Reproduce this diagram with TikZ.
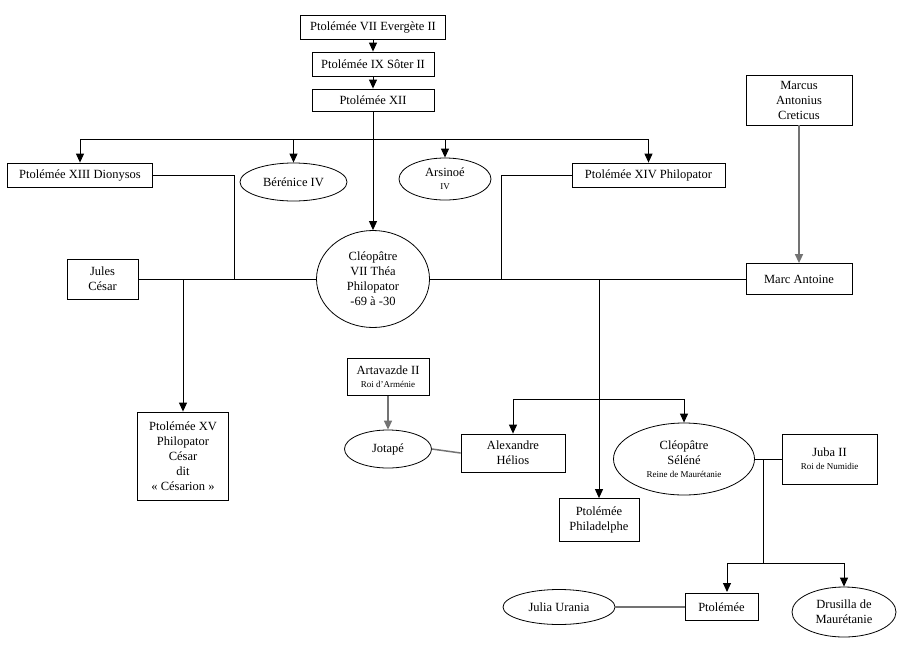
\documentclass[tikz,border=0pt]{standalone}
\usepackage{fontspec}
\setmainfont{Liberation Serif}
\usetikzlibrary{shapes.geometric,arrows.meta}
\tikzset{
  every node/.style={font=\fontsize{12.5}{15}\selectfont, align=center, inner sep=0pt},
  box/.style={draw, line width=0.8pt, rectangle},
  oval/.style={draw, line width=0.8pt, ellipse},
  ln/.style={line width=1pt},
  gln/.style={line width=1.5pt, black!55},
  arr/.style={ln, -{Triangle[length=9pt,width=8pt]}},
  garr/.style={gln, -{Triangle[length=9pt,width=8pt]}},
}
\newcommand{\smalltxt}{\fontsize{9}{11}\selectfont}
\begin{document}
\begin{tikzpicture}[x=1pt,y=-1pt]
\useasboundingbox (0,0) rectangle (902,646);
% nodes
\node[box, minimum width=145pt, minimum height=24pt] (p7) at (373,27) {Ptolémée VII Evergète II};
\node[box, minimum width=122pt, minimum height=24pt] (p9) at (373,64) {Ptolémée IX Sôter II};
\node[box, minimum width=122pt, minimum height=22pt] (p12) at (373,100) {Ptolémée XII};
\node[box, minimum width=145pt, minimum height=24pt] (p13) at (80,175) {Ptolémée XIII Dionysos};
\node[oval, minimum width=107pt, minimum height=38pt] (ber) at (293.5,182) {Bérénice IV};
\node[oval, minimum width=92pt, minimum height=42pt] (ars) at (445,179) {Arsinoé\\[-2pt]{\smalltxt IV}};
\node[box, minimum width=153pt, minimum height=24pt] (p14) at (648.5,175) {Ptolémée XIV Philopator};
\node[box, minimum width=106pt, minimum height=50pt] (marcus) at (799,100) {Marcus\\Antonius\\Creticus};
\node[box, minimum width=71pt, minimum height=40pt] (jules) at (102.5,279) {Jules\\César};
\node[oval, minimum width=113pt, minimum height=97pt] (cleo) at (373,279) {Cléopâtre\\VII Théa\\Philopator\\-69 à -30};
\node[box, minimum width=106pt, minimum height=31pt] (marc) at (799,279) {Marc Antoine};
\node[box, minimum width=82pt, minimum height=37pt] (art) at (388,377) {Artavazde II\\[-2pt]{\smalltxt Roi d'Arménie}};
\node[oval, minimum width=87pt, minimum height=38pt] (jot) at (388,449) {Jotapé};
\node[box, minimum width=91pt, minimum height=88pt] (caes) at (183,456) {Ptolémée XV\\Philopator\\César\\dit\\« Césarion »};
\node[box, minimum width=104pt, minimum height=38pt] (alex) at (513,453) {Alexandre\\Hélios};
\node[box, minimum width=80pt, minimum height=43pt] (phil) at (599,520) {Ptolémée\\Philadelphe};
\node[oval, minimum width=141pt, minimum height=72pt] (sel) at (684,459) {Cléopâtre\\Séléné\\[-2pt]{\smalltxt Reine de Maurétanie}};
\node[box, minimum width=95pt, minimum height=50pt] (juba) at (829.5,459) {Juba II\\[-2pt]{\smalltxt Roi de Numidie}};
\node[box, minimum width=73pt, minimum height=27pt] (ptol) at (721.5,607) {Ptolémée};
\node[oval, minimum width=104pt, minimum height=50pt] (dru) at (844,612) {Drusilla de\\Maurétanie};
\node[oval, minimum width=112pt, minimum height=35pt] (jul) at (559,607) {Julia Urania};
% coordinates
\coordinate (sib) at (373,139);
\coordinate (m13) at (234,279);
\coordinate (m14) at (501,279);
\coordinate (jc) at (183,279);
\coordinate (ma) at (599,279);
\coordinate (kids) at (599,399);
\coordinate (sj) at (763,459);
\coordinate (sjb) at (763,563);
\coordinate (ptolin) at (727,592);
% connectors
\draw[arr] (p7) -- (p9);
\draw[arr] (p9) -- (p12);
\draw[arr] (p12) -- (cleo);
\draw[arr] (sib) -| (p13);
\draw[arr] (sib) -| (ber);
\draw[arr] (sib) -| (ars);
\draw[arr] (sib) -| (p14);
\draw[ln] (p13.east) -| (m13);
\draw[ln] (p14.west) -| (m14);
\draw[ln] (jules) -- (cleo);
\draw[ln] (cleo) -- (marc);
\draw[garr] (marcus) -- (marc);
\draw[arr] (jc) -- (caes);
\draw[arr] (ma) -- (phil);
\draw[arr] (kids) -| (alex);
\draw[arr] (kids) -| (sel);
\draw[garr] (art) -- (jot);
\draw[gln] (jot.east) -- (alex.west);
\draw[ln] (sel) -- (juba);
\draw[ln] (sj) -- (sjb);
\draw[arr] (sjb) -| (ptolin);
\draw[arr] (sjb) -| (dru);
\draw[gln] (jul) -- (ptol);
\end{tikzpicture}
\end{document}
